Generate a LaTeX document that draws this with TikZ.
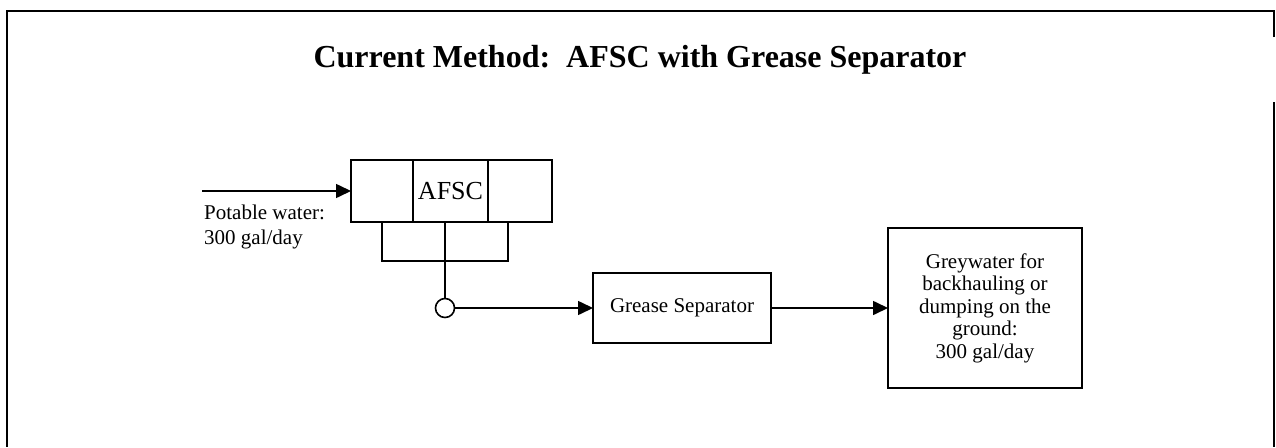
\documentclass[tikz,border=0pt]{standalone}
\usepackage{fontspec}
\setmainfont{Liberation Serif}
\usetikzlibrary{arrows.meta}
\usetikzlibrary{positioning}
\tikzset {
  pipe/.style = {
    draw = black,
    line width = 1.6pt
  },
  % pipe with a filled head where it enters the next unit
  flow/.style = {
    pipe,
    -{Triangle[length = 15pt, width = 14pt]}
  },
  frame/.style = {
    draw = black,
    line width = 2.2pt
  }
}
\tikzset {
  unit/.style = {
    draw = black,
    line width = 1.6pt,
    rectangle,
    inner sep = 0,
    outer sep = 0,
    align = center,
    font = \fontsize{21}{22.5}\selectfont
  },
  % parts of the AFSC
  cell/.style = {
    unit,
    minimum height = 62pt
  },
  junction/.style = {
    draw = black,
    line width = 1.6pt,
    circle,
    fill = white,
    minimum size = 19pt,
    inner sep = 0,
    outer sep = 0
  },
  label/.style = {
    align = left,
    inner sep = 0,
    font = \fontsize{21}{25}\selectfont
  },
  node distance = 0pt
}

\begin{document}
\begin{tikzpicture}[x = 1pt, y = -1pt]
    \useasboundingbox (0,0) rectangle (1276,447);

    % page frame, open on the right
    \draw[frame] (1274,37) -- (1274,11) -- (7,11) -- (7,447);
    \draw[frame] (1274,102) -- (1274,447);

    \node (title) at (640,60)
      {\fontsize{32}{36}\selectfont\bfseries Current Method:\ \ AFSC with Grease Separator};

    \node[cell, minimum width = 75pt, font = \fontsize{26}{30}\selectfont] (afsc) at (450.5,191) {AFSC};
    \node[cell, minimum width = 62pt] (afsc-left) [left=of afsc] {};
    \node[cell, minimum width = 64pt] (afsc-right) [right=of afsc] {};
    \node[unit, minimum width = 126pt, minimum height = 39pt] (basin) at (445,241.5) {};
    \node[junction] (tap) at (445,308) {};

    \node[unit, minimum width = 178pt, minimum height = 70pt] (separator) at (682,308) {Grease Separator};
    \node[unit, minimum width = 194pt, minimum height = 160pt] (greywater) at (985,308)
      {Greywater for\\backhauling or\\dumping on the\\ground:\\300 gal/day};

    \coordinate (inlet) at (202,191);
    \node[label, anchor = north west] (potable) at (204,205) {Potable water:\\300 gal/day};

    \draw[flow] (inlet) -- (afsc-left.west);
    \draw[pipe] (basin.north) -- (tap.north);
    \draw[flow] (tap.east) -- (separator.west);
    \draw[flow] (separator.east) -- (greywater.west);
  \end{tikzpicture}
\end{document}
